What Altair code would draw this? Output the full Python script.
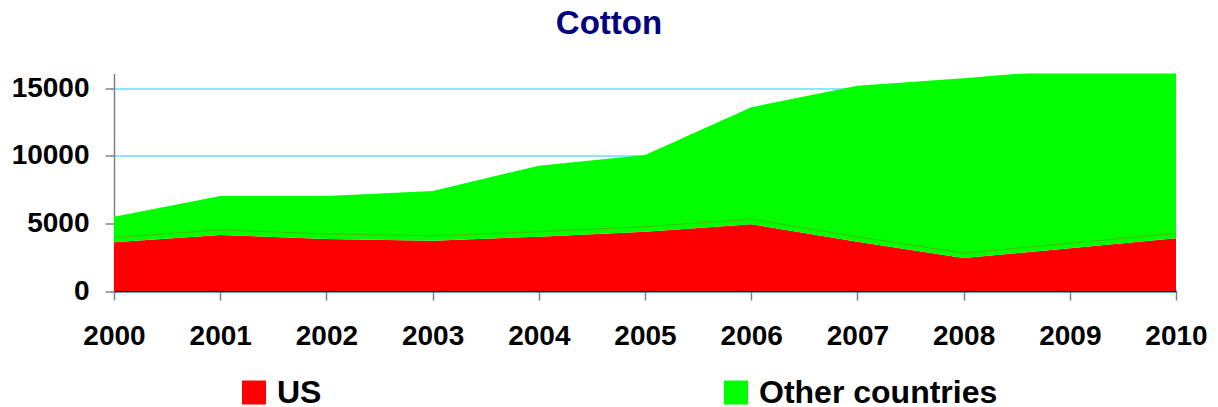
import altair as alt
import pandas as pd

years = [2000, 2001, 2002, 2003, 2004, 2005, 2006, 2007, 2008, 2009, 2010]
us = [3600, 4150, 3850, 3720, 4020, 4390, 4940, 3650, 2440, 3160, 3900]
other = [1900, 2880, 3180, 3680, 5260, 5680, 8660, 11550, 13300, 13240, 12900]
series = ["US", "Other countries"]
colors = ["#FF0000", "#00FF00"]
y_ticks = [0, 5000, 10000, 15000]

rows = []
for i, yr in enumerate(years):
    rows.append({"year": yr, "series": "US", "value": us[i], "ord": 0})
    rows.append({"year": yr, "series": "Other countries", "value": other[i], "ord": 1})
df = pd.DataFrame(rows)

FONT = "Liberation Sans"

x_enc = alt.X("year:Q", scale=alt.Scale(domain=[2000, 2010], nice=False, zero=False),
              axis=alt.Axis(values=years, format="d", title=None, grid=False,
                            labelFontSize=28, labelFontWeight="bold", labelColor="black",
                            labelFont=FONT, labelFlush=False, labelPadding=22,
                            tickSize=9, tickColor="#808080", tickWidth=1.5,
                            domainColor="#000000", domainWidth=1.5))
y_scale = alt.Scale(domain=[0, 16100], nice=False)

area = alt.Chart(df).mark_area(clip=True, interpolate="linear").encode(
    x=x_enc,
    y=alt.Y("value:Q", stack="zero", scale=y_scale,
            axis=alt.Axis(values=y_ticks, format="d", title=None, grid=True,
                          gridColor="#22CCFF", gridWidth=1, labelFontSize=28,
                          labelFontWeight="bold", labelColor="black", labelFont=FONT,
                          labelPadding=16, tickSize=9, tickColor="#808080", tickWidth=1.5,
                          domainColor="#808080", domainWidth=1.5)),
    color=alt.Color("series:N", scale=alt.Scale(domain=series, range=colors),
                    legend=alt.Legend(title=None, orient="none", legendX=124, legendY=303,
                                      direction="horizontal", symbolType="square",
                                      symbolSize=576, symbolStrokeWidth=0,
                                      symbolOpacity=1,
                                      labelFontSize=32, labelFontWeight="bold",
                                      labelFont=FONT, labelColor="black",
                                      labelOffset=7, columnPadding=398,
                                      labelLimit=600, padding=0)),
    order=alt.Order("ord:Q", sort="ascending"),
)

edge = alt.Chart(df).transform_filter(alt.datum.series == "US").mark_line(
    clip=True, color="#A05A00", strokeWidth=1, opacity=0.4, yOffset=-5
).encode(
    x=alt.X("year:Q", scale=alt.Scale(domain=[2000, 2010], nice=False, zero=False)),
    y=alt.Y("value:Q", scale=y_scale),
)

chart = alt.layer(area, edge).properties(
    width=1062,
    height=217.5,
    autosize=alt.AutoSizeParams(type="none"),
    padding={"left": 106, "top": 65.5, "right": 34, "bottom": 115},
    title=alt.TitleParams("Cotton", fontSize=33, fontWeight="bold", color="#000080",
                          font=FONT, anchor="middle", dx=-36, frame="group",
                          offset=33),
).configure_view(stroke=None).configure_axis(gridOpacity=1)

chart.save("out.html", embed_options={"renderer": "svg", "actions": False})
